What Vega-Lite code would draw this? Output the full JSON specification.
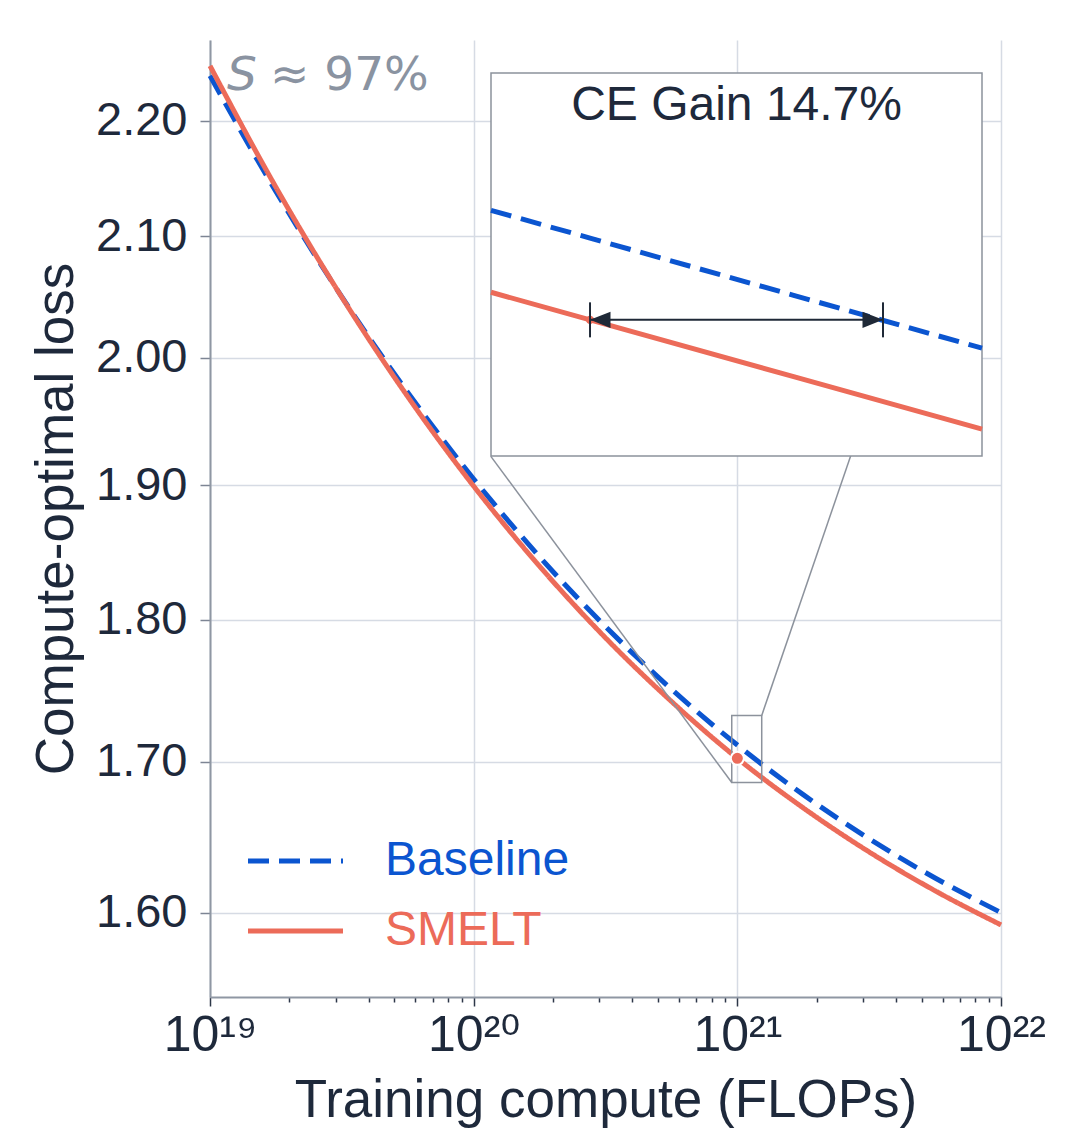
{
  "$schema": "https://vega.github.io/schema/vega-lite/v6.json",
  "width": 791,
  "height": 957,
  "autosize": {"type": "none"},
  "padding": {"left": 210, "top": 40, "right": 79, "bottom": 144},
  "background": "white",
  "config": {
    "font": "Liberation Sans",
    "view": {"stroke": null}
  },
  "datasets": {
    "curves": [
      {"compute": 1e19, "loss": 2.2400, "series": "Baseline"},
      {"compute": 1.778e19, "loss": 2.1382, "series": "Baseline"},
      {"compute": 3.162e19, "loss": 2.0495, "series": "Baseline"},
      {"compute": 5.623e19, "loss": 1.9722, "series": "Baseline"},
      {"compute": 1e20, "loss": 1.9048, "series": "Baseline"},
      {"compute": 1.778e20, "loss": 1.8461, "series": "Baseline"},
      {"compute": 3.162e20, "loss": 1.7950, "series": "Baseline"},
      {"compute": 5.623e20, "loss": 1.7504, "series": "Baseline"},
      {"compute": 1e21, "loss": 1.7115, "series": "Baseline"},
      {"compute": 1.778e21, "loss": 1.6777, "series": "Baseline"},
      {"compute": 3.162e21, "loss": 1.6482, "series": "Baseline"},
      {"compute": 5.623e21, "loss": 1.6224, "series": "Baseline"},
      {"compute": 1e22, "loss": 1.6000, "series": "Baseline"},
      {"compute": 1e19, "loss": 2.2490, "series": "SMELT"},
      {"compute": 1.778e19, "loss": 2.1419, "series": "SMELT"},
      {"compute": 3.162e19, "loss": 2.0492, "series": "SMELT"},
      {"compute": 5.623e19, "loss": 1.9689, "series": "SMELT"},
      {"compute": 1e20, "loss": 1.8993, "series": "SMELT"},
      {"compute": 1.778e20, "loss": 1.8391, "series": "SMELT"},
      {"compute": 3.162e20, "loss": 1.7869, "series": "SMELT"},
      {"compute": 5.623e20, "loss": 1.7418, "series": "SMELT"},
      {"compute": 1e21, "loss": 1.7024, "series": "SMELT"},
      {"compute": 1.778e21, "loss": 1.6688, "series": "SMELT"},
      {"compute": 3.162e21, "loss": 1.6395, "series": "SMELT"},
      {"compute": 5.623e21, "loss": 1.6141, "series": "SMELT"},
      {"compute": 1e22, "loss": 1.5921, "series": "SMELT"}
    ],
    "inset": [
      {"compute": 9.547e20, "loss": 1.71416, "series": "Baseline"},
      {"compute": 1e21, "loss": 1.71126, "series": "Baseline"},
      {"compute": 1.1e21, "loss": 1.70528, "series": "Baseline"},
      {"compute": 1.2014e21, "loss": 1.69976, "series": "Baseline"},
      {"compute": 9.547e20, "loss": 1.7056, "series": "SMELT"},
      {"compute": 1e21, "loss": 1.70272, "series": "SMELT"},
      {"compute": 1.1e21, "loss": 1.69679, "series": "SMELT"},
      {"compute": 1.2014e21, "loss": 1.6913, "series": "SMELT"}
    ],
    "arrow_ends": [
      {"compute": 1e21, "loss": 1.70272, "end": "left"},
      {"compute": 1.147e21, "loss": 1.70272, "end": "right"}
    ]
  },
  "layer": [
    {
      "layer": [
        {
          "data": {"name": "curves"},
          "mark": {"type": "line", "strokeWidth": 5, "interpolate": "monotone"},
          "encoding": {
            "x": {
              "field": "compute",
              "type": "quantitative",
              "scale": {"type": "log", "domain": [1e19, 1e22], "nice": false},
              "axis": {
                "title": "Training compute (FLOPs)",
                "values": [1e19, 2e19, 3e19, 4e19, 5e19, 6e19, 7e19, 8e19, 9e19, 1e20, 2e20, 3e20, 4e20, 5e20, 6e20, 7e20, 8e20, 9e20, 1e21, 2e21, 3e21, 4e21, 5e21, 6e21, 7e21, 8e21, 9e21, 1e22],
                "labelExpr": "datum.value == 1e19 ? '10¹⁹' : datum.value == 1e20 ? '10²⁰' : datum.value == 1e21 ? '10²¹' : datum.value == 1e22 ? '10²²' : ''",
                "labelFont": "Liberation Sans, DejaVu Sans",
                "labelOverlap": false,
                "labelFlush": false,
                "labelFontSize": 50,
                "labelColor": "#1e293b",
                "labelPadding": 4,
                "grid": true,
                "gridColor": "#d6dbe4",
                "gridWidth": 1.5,
                "gridOpacity": {"condition": {"test": "datum.value == 1e19 || datum.value == 1e20 || datum.value == 1e21 || datum.value == 1e22", "value": 1}, "value": 0},
                "tickSize": {"condition": {"test": "datum.value == 1e19 || datum.value == 1e20 || datum.value == 1e21 || datum.value == 1e22", "value": 9}, "value": 5},
                "tickColor": "#2d3748",
                "tickWidth": 1.5,
                "domainColor": "#8f97a3",
                "domainWidth": 2,
                "titleFontSize": 53,
                "titleFontWeight": "normal",
                "titleColor": "#1e293b",
                "titlePadding": 14
              }
            },
            "y": {
              "field": "loss",
              "type": "quantitative",
              "scale": {"type": "log", "domain": [1.5466, 2.2725], "nice": false, "zero": false},
              "axis": {
                "title": "Compute-optimal loss",
                "values": [1.6, 1.7, 1.8, 1.9, 2.0, 2.1, 2.2],
                "format": ".2f",
                "labelFontSize": 47,
                "labelColor": "#1e293b",
                "labelPadding": 13,
                "grid": true,
                "gridColor": "#d6dbe4",
                "gridWidth": 1.5,
                "tickSize": 10,
                "tickColor": "#7d8594",
                "tickWidth": 1.5,
                "domainColor": "#8f97a3",
                "domainWidth": 2,
                "titleFontSize": 53,
                "titleFontWeight": "normal",
                "titleColor": "#1e293b",
                "titlePadding": 12
              }
            },
            "color": {
              "field": "series",
              "type": "nominal",
              "scale": {"domain": ["Baseline", "SMELT"], "range": ["#0b55d0", "#ec6b59"]},
              "legend": {
                "title": null,
                "orient": "none",
                "legendX": 35.5,
                "legendY": 786,
                "padding": 0,
                "symbolType": "stroke",
                "symbolSize": 9025,
                "symbolStrokeWidth": 5,
                "clipHeight": 70,
                "rowPadding": 0,
                "labelFontSize": 48,
                "labelOffset": 39.5,
                "labelLimit": 400,
                "labelColor": {"expr": "datum.value === 'Baseline' ? '#0b55d0' : '#ec6b59'"}
              }
            },
            "strokeDash": {
              "field": "series",
              "type": "nominal",
              "scale": {"domain": ["Baseline", "SMELT"], "range": [[21, 10], [1, 0]]},
              "legend": {
                "title": null,
                "orient": "none",
                "legendX": 35.5,
                "legendY": 786,
                "padding": 0,
                "symbolType": "stroke",
                "symbolSize": 9025,
                "symbolStrokeWidth": 5,
                "clipHeight": 70,
                "rowPadding": 0,
                "labelFontSize": 48,
                "labelOffset": 39.5,
                "labelLimit": 400,
                "labelColor": {"expr": "datum.value === 'Baseline' ? '#0b55d0' : '#ec6b59'"}
              }
            }
          }
        },
        {
          "data": {"values": [
            {"x": 1.162e20, "y": 1.9222, "x2": 9.524e20, "y2": 1.6859},
            {"x": 8.445e21, "y": 2.2419, "x2": 1.2374e21, "y2": 1.7320}
          ]},
          "mark": {"type": "rule", "color": "#8c929c", "strokeWidth": 1.5},
          "encoding": {
            "x": {"field": "x", "type": "quantitative", "scale": {"type": "log"}},
            "y": {"field": "y", "type": "quantitative", "scale": {"type": "log"}},
            "x2": {"field": "x2"},
            "y2": {"field": "y2"}
          }
        },
        {
          "data": {"values": [{"x": 9.524e20, "x2": 1.2374e21, "y": 1.6859, "y2": 1.7320}]},
          "mark": {"type": "rect", "fillOpacity": 0, "stroke": "#8c929c", "strokeWidth": 1.5},
          "encoding": {
            "x": {"field": "x", "type": "quantitative", "scale": {"type": "log"}},
            "y": {"field": "y", "type": "quantitative", "scale": {"type": "log"}},
            "x2": {"field": "x2"},
            "y2": {"field": "y2"}
          }
        },
        {
          "data": {"values": [{"compute": 1e21, "loss": 1.7024}]},
          "mark": {"type": "point", "filled": true, "fill": "#ec6b59", "stroke": "white", "strokeWidth": 2, "size": 170, "opacity": 1},
          "encoding": {
            "x": {"field": "compute", "type": "quantitative", "scale": {"type": "log"}},
            "y": {"field": "loss", "type": "quantitative", "scale": {"type": "log"}}
          }
        },
        {
          "data": {"values": [{"compute": 1.16e19, "loss": 2.2276, "label": "S"}]},
          "mark": {"type": "text", "font": "DejaVu Sans", "fontStyle": "italic", "fontSize": 47, "color": "#8a93a1", "align": "left", "baseline": "alphabetic"},
          "encoding": {
            "x": {"field": "compute", "type": "quantitative", "scale": {"type": "log"}},
            "y": {"field": "loss", "type": "quantitative", "scale": {"type": "log"}},
            "text": {"field": "label"}
          }
        },
        {
          "data": {"values": [{"compute": 1.688e19, "loss": 2.2276, "label": "≈ 97%"}]},
          "mark": {"type": "text", "font": "DejaVu Sans", "fontSize": 47, "color": "#8a93a1", "align": "left", "baseline": "alphabetic"},
          "encoding": {
            "x": {"field": "compute", "type": "quantitative", "scale": {"type": "log"}},
            "y": {"field": "loss", "type": "quantitative", "scale": {"type": "log"}},
            "text": {"field": "label"}
          }
        }
      ]
    },
    {
      "layer": [
        {
          "data": {"values": [{"x": 9.547e20, "x2": 1.2014e21, "y": 1.6885, "y2": 1.7285}]},
          "mark": {"type": "rect", "fill": "white", "stroke": "#8c929c", "strokeWidth": 1.5},
          "encoding": {
            "x": {"field": "x", "type": "quantitative", "scale": {"type": "log", "domain": [9.547e20, 1.2014e21], "range": [281, 772], "nice": false}, "axis": null},
            "y": {"field": "y", "type": "quantitative", "scale": {"type": "linear", "domain": [1.6885, 1.7285], "range": [416, 33], "nice": false, "zero": false}, "axis": null},
            "x2": {"field": "x2"},
            "y2": {"field": "y2"}
          }
        },
        {
          "data": {"name": "inset"},
          "transform": [{"filter": "datum.series === 'Baseline'"}],
          "mark": {"type": "line", "color": "#0b55d0", "strokeWidth": 5, "strokeDash": [21, 10]},
          "encoding": {
            "x": {"field": "compute", "type": "quantitative", "scale": {"type": "log"}, "axis": null},
            "y": {"field": "loss", "type": "quantitative", "axis": null}
          }
        },
        {
          "data": {"name": "inset"},
          "transform": [{"filter": "datum.series === 'SMELT'"}],
          "mark": {"type": "line", "color": "#ec6b59", "strokeWidth": 5},
          "encoding": {
            "x": {"field": "compute", "type": "quantitative", "scale": {"type": "log"}, "axis": null},
            "y": {"field": "loss", "type": "quantitative", "axis": null}
          }
        },
        {
          "data": {"values": [{"compute": 1e21, "loss": 1.70272}]},
          "mark": {"type": "point", "filled": true, "color": "#ec6b59", "size": 70, "opacity": 1},
          "encoding": {
            "x": {"field": "compute", "type": "quantitative", "scale": {"type": "log"}, "axis": null},
            "y": {"field": "loss", "type": "quantitative", "axis": null}
          }
        },
        {
          "data": {"values": [{"from": 1e21, "to": 1.147e21, "loss": 1.70272}]},
          "mark": {"type": "rule", "color": "#1f2937", "strokeWidth": 2},
          "encoding": {
            "x": {"field": "from", "type": "quantitative", "scale": {"type": "log"}, "axis": null},
            "x2": {"field": "to"},
            "y": {"field": "loss", "type": "quantitative", "axis": null}
          }
        },
        {
          "data": {"name": "arrow_ends"},
          "mark": {"type": "point", "shape": "M0,-1L0,1", "size": 1225, "filled": false, "color": "#1f2937", "strokeWidth": 2, "opacity": 1},
          "encoding": {
            "x": {"field": "compute", "type": "quantitative", "scale": {"type": "log"}, "axis": null},
            "y": {"field": "loss", "type": "quantitative", "axis": null}
          }
        },
        {
          "data": {"name": "arrow_ends"},
          "transform": [{"filter": "datum.end === 'left'"}],
          "mark": {"type": "point", "shape": "M0,0L2,-0.8L2,0.8Z", "size": 420, "filled": true, "color": "#1f2937", "opacity": 1},
          "encoding": {
            "x": {"field": "compute", "type": "quantitative", "scale": {"type": "log"}, "axis": null},
            "y": {"field": "loss", "type": "quantitative", "axis": null}
          }
        },
        {
          "data": {"name": "arrow_ends"},
          "transform": [{"filter": "datum.end === 'right'"}],
          "mark": {"type": "point", "shape": "M0,0L-2,-0.8L-2,0.8Z", "size": 420, "filled": true, "color": "#1f2937", "opacity": 1},
          "encoding": {
            "x": {"field": "compute", "type": "quantitative", "scale": {"type": "log"}, "axis": null},
            "y": {"field": "loss", "type": "quantitative", "axis": null}
          }
        },
        {
          "data": {"values": [{"compute": 1.071e21, "loss": 1.7236, "label": "CE Gain 14.7%"}]},
          "mark": {"type": "text", "fontSize": 48, "color": "#1e293b", "align": "center", "baseline": "alphabetic"},
          "encoding": {
            "x": {"field": "compute", "type": "quantitative", "scale": {"type": "log"}, "axis": null},
            "y": {"field": "loss", "type": "quantitative", "axis": null},
            "text": {"field": "label"}
          }
        }
      ]
    }
  ],
  "resolve": {"scale": {"x": "independent", "y": "independent"}}
}
